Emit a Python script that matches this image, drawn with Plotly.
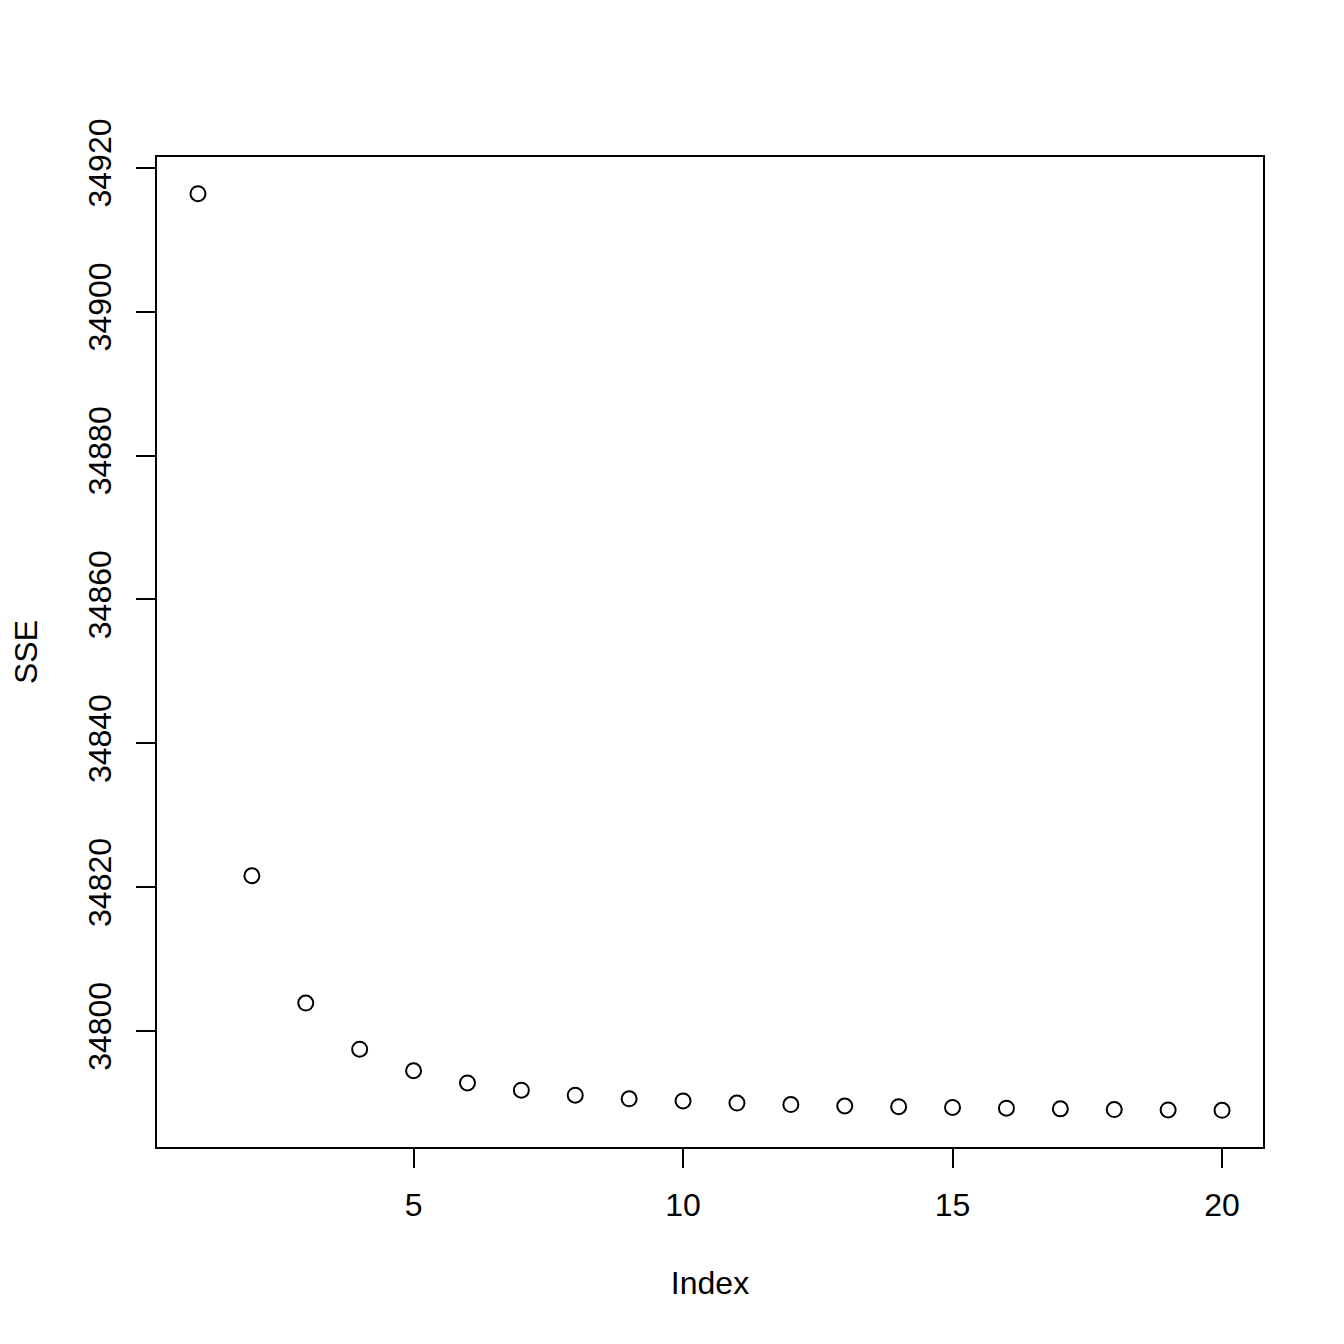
import plotly.graph_objects as go

index = list(range(1, 21))
sse = [34916.4, 34821.6, 34803.9, 34797.5, 34794.5, 34792.8, 34791.8, 34791.1,
       34790.6, 34790.3, 34790.0, 34789.8, 34789.6, 34789.5, 34789.4, 34789.3,
       34789.2, 34789.1, 34789.05, 34789.0]
x_ticks = [5, 10, 15, 20]
y_ticks = [34800, 34820, 34840, 34860, 34880, 34900, 34920]

fig = go.Figure(go.Scatter(
    x=index, y=sse, mode="markers",
    marker=dict(symbol="circle-open", size=15, color="black", line=dict(width=2, color="black")),
))

font = dict(family="Liberation Sans, Arial, sans-serif", size=32, color="black")

fig.update_layout(
    width=1344, height=1344,
    margin=dict(l=149, r=89, t=149, b=205, autoexpand=False),
    plot_bgcolor="white", paper_bgcolor="white",
    font=font, showlegend=False,
)
fig.update_xaxes(
    range=[0.24, 20.76], tickvals=x_ticks, ticktext=[str(v) for v in x_ticks],
    showgrid=False, zeroline=False, showline=True, mirror=True, linecolor="black", linewidth=2,
    ticks="outside", ticklen=19, tickwidth=2, tickcolor="black",
    ticklabelstandoff=10,
    title=dict(text="Index", standoff=49, font=font),
)
fig.update_yaxes(
    range=[34783.9, 34921.5], tickvals=y_ticks, ticktext=[str(v) for v in y_ticks],
    showgrid=False, zeroline=False, showline=True, mirror=True, linecolor="black", linewidth=2,
    ticks="outside", ticklen=19, tickwidth=2, tickcolor="black", tickangle=-90,
    ticklabelstandoff=12,
    title=dict(text="SSE", standoff=38, font=font),
)
fig.write_html("out.html")
